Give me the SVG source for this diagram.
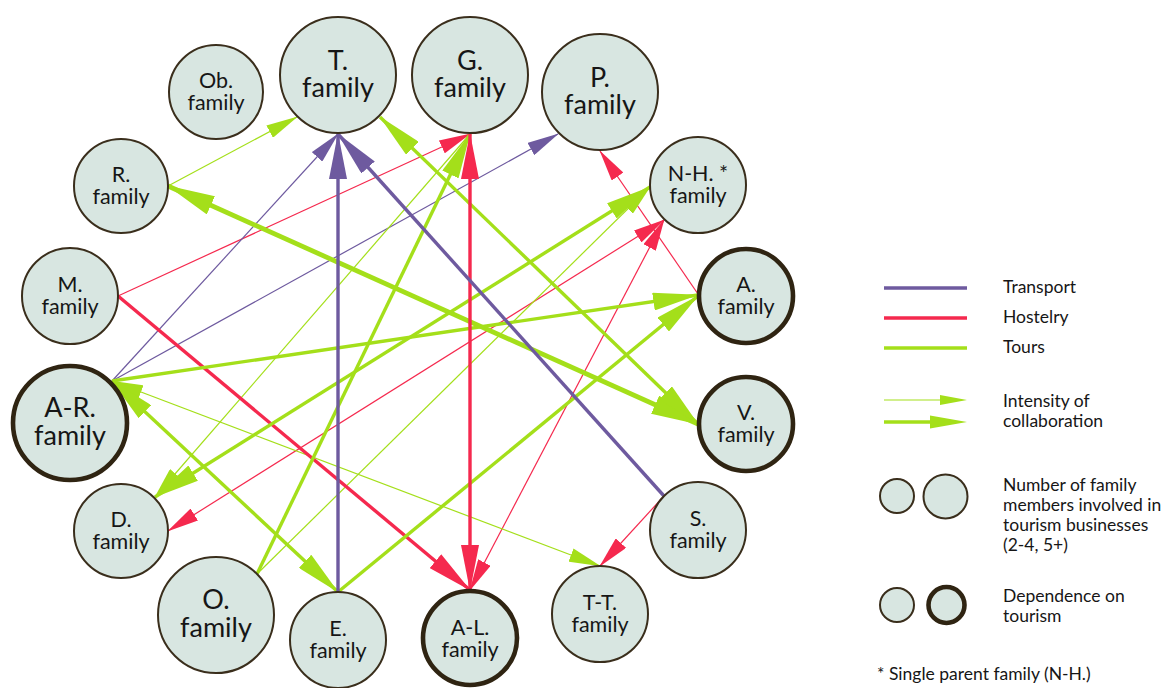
<svg xmlns="http://www.w3.org/2000/svg" width="1167" height="688" viewBox="0 0 1167 688">
<style>
.bg{fill:#ffffff}
.node{fill:#d8e6e1;stroke:#3a2e1c;stroke-width:2}
.dep{stroke:#2f2412;stroke-width:4.6}
.lbl{font-family:Lato,"Liberation Sans",sans-serif;fill:#161616;text-anchor:middle}
.s{font-size:21.5px}
.b{font-size:27px}
.leg{font-family:Lato,"Liberation Sans",sans-serif;fill:#161616;font-size:17.5px}
.pu{stroke:#6e5a9f;fill:none}
.re{stroke:#f5294e;fill:none}
.gr{stroke:#a4df1a;fill:none}
.th{stroke-width:1.2}
.tk{stroke-width:3.4}
.xk{stroke-width:4.8}
</style>
<defs>
<marker id="pu1" markerUnits="userSpaceOnUse" viewBox="0 0 32 14" markerWidth="32" markerHeight="14" refX="31" refY="7" orient="auto-start-reverse"><path d="M0,0L32,7L0,14z" fill="#6e5a9f"/></marker>
<marker id="pu2" markerUnits="userSpaceOnUse" viewBox="0 0 46 18" markerWidth="46" markerHeight="18" refX="45" refY="9" orient="auto-start-reverse"><path d="M0,0L46,9L0,18z" fill="#6e5a9f"/></marker>
<marker id="re1" markerUnits="userSpaceOnUse" viewBox="0 0 32 14" markerWidth="32" markerHeight="14" refX="31" refY="7" orient="auto-start-reverse"><path d="M0,0L32,7L0,14z" fill="#f5294e"/></marker>
<marker id="re2" markerUnits="userSpaceOnUse" viewBox="0 0 46 18" markerWidth="46" markerHeight="18" refX="45" refY="9" orient="auto-start-reverse"><path d="M0,0L46,9L0,18z" fill="#f5294e"/></marker>
<marker id="gr1" markerUnits="userSpaceOnUse" viewBox="0 0 32 14" markerWidth="32" markerHeight="14" refX="31" refY="7" orient="auto-start-reverse"><path d="M0,0L32,7L0,14z" fill="#a4df1a"/></marker>
<marker id="gr2" markerUnits="userSpaceOnUse" viewBox="0 0 46 18" markerWidth="46" markerHeight="18" refX="45" refY="9" orient="auto-start-reverse"><path d="M0,0L46,9L0,18z" fill="#a4df1a"/></marker>
<marker id="gr3" markerUnits="userSpaceOnUse" viewBox="0 0 48 20" markerWidth="48" markerHeight="20" refX="47" refY="10" orient="auto-start-reverse"><path d="M0,0L48,10L0,20z" fill="#a4df1a"/></marker>
</defs>
<rect class="bg" x="0" y="0" width="1167" height="688"/>
<g id="connectors">
<line class="re th" x1="118" y1="296" x2="470" y2="134" marker-end="url(#re1)"/>
<line class="re th" x1="698" y1="294" x2="600" y2="151" marker-end="url(#re1)"/>
<line class="re th" x1="168" y1="531" x2="664" y2="220" marker-start="url(#re1)" marker-end="url(#re1)"/>
<line class="re th" x1="470" y1="590" x2="664" y2="220" marker-start="url(#re1)" marker-end="url(#re1)"/>
<line class="re th" x1="664" y1="496" x2="600" y2="566" marker-end="url(#re1)"/>
<line class="pu th" x1="112" y1="381" x2="338" y2="134" marker-end="url(#pu1)"/>
<line class="pu th" x1="112" y1="381" x2="558" y2="134" marker-end="url(#pu1)"/>
<line class="gr th" x1="168" y1="186" x2="297" y2="117" marker-end="url(#gr1)"/>
<line class="gr th" x1="470" y1="134" x2="155" y2="497" marker-end="url(#gr1)"/>
<line class="gr th" x1="257" y1="574" x2="650" y2="187" marker-end="url(#gr1)"/>
<line class="gr th" x1="112" y1="381" x2="600" y2="566" marker-start="url(#gr1)" marker-end="url(#gr1)"/>
<line class="re tk" x1="118" y1="296" x2="470" y2="590" marker-end="url(#re2)"/>
<line class="gr xk" x1="168" y1="186" x2="698" y2="424" marker-start="url(#gr3)" marker-end="url(#gr3)"/>
<line class="gr tk" x1="380" y1="117" x2="698" y2="424" marker-start="url(#gr2)" marker-end="url(#gr2)"/>
<line class="gr tk" x1="257" y1="574" x2="470" y2="134" marker-end="url(#gr2)"/>
<line class="gr tk" x1="155" y1="497" x2="650" y2="187" marker-start="url(#gr2)" marker-end="url(#gr2)"/>
<line class="gr tk" x1="112" y1="381" x2="698" y2="295" marker-end="url(#gr2)"/>
<line class="gr tk" x1="338" y1="592" x2="698" y2="296" marker-end="url(#gr2)"/>
<line class="gr tk" x1="112" y1="381" x2="338" y2="592" marker-start="url(#gr2)" marker-end="url(#gr2)"/>
<line class="re tk" x1="470" y1="590" x2="470" y2="134" marker-start="url(#re2)" marker-end="url(#re2)"/>
<line class="pu tk" x1="338" y1="592" x2="338" y2="134" marker-end="url(#pu2)"/>
<line class="pu tk" x1="664" y1="496" x2="338" y2="134" marker-end="url(#pu2)"/>
</g>
<g id="node-ob"><circle class="node" cx="216" cy="92" r="47"/><text class="lbl s"><tspan x="216" y="88">Ob.</tspan><tspan x="216" y="110">family</tspan></text></g>
<g id="node-t"><circle class="node" cx="338" cy="75" r="58"/><text class="lbl b"><tspan x="338" y="70">T.</tspan><tspan x="338" y="97">family</tspan></text></g>
<g id="node-g"><circle class="node" cx="470" cy="75" r="58"/><text class="lbl b"><tspan x="470" y="70">G.</tspan><tspan x="470" y="97">family</tspan></text></g>
<g id="node-p"><circle class="node" cx="600" cy="92" r="58"/><text class="lbl b"><tspan x="600" y="87">P.</tspan><tspan x="600" y="114">family</tspan></text></g>
<g id="node-nh"><circle class="node" cx="698" cy="185" r="48"/><text class="lbl s"><tspan x="698" y="181">N-H. *</tspan><tspan x="698" y="203">family</tspan></text></g>
<g id="node-r"><circle class="node" cx="121" cy="186" r="47"/><text class="lbl s"><tspan x="121" y="182">R.</tspan><tspan x="121" y="204">family</tspan></text></g>
<g id="node-m"><circle class="node" cx="70" cy="296" r="48"/><text class="lbl s"><tspan x="70" y="292">M.</tspan><tspan x="70" y="314">family</tspan></text></g>
<g id="node-ar"><circle class="node dep" cx="70" cy="423" r="57"/><text class="lbl b"><tspan x="70" y="417">A-R.</tspan><tspan x="70" y="445">family</tspan></text></g>
<g id="node-d"><circle class="node" cx="121" cy="531" r="47"/><text class="lbl s"><tspan x="121" y="527">D.</tspan><tspan x="121" y="549">family</tspan></text></g>
<g id="node-o"><circle class="node" cx="216" cy="615" r="58"/><text class="lbl b"><tspan x="216" y="609">O.</tspan><tspan x="216" y="637">family</tspan></text></g>
<g id="node-e"><circle class="node" cx="338" cy="640" r="48"/><text class="lbl s"><tspan x="338" y="636">E.</tspan><tspan x="338" y="658">family</tspan></text></g>
<g id="node-al"><circle class="node dep" cx="470" cy="638" r="47"/><text class="lbl s"><tspan x="470" y="635">A-L.</tspan><tspan x="470" y="657">family</tspan></text></g>
<g id="node-tt"><circle class="node" cx="600" cy="614" r="48"/><text class="lbl s"><tspan x="600" y="610">T-T.</tspan><tspan x="600" y="632">family</tspan></text></g>
<g id="node-s"><circle class="node" cx="698" cy="530" r="48"/><text class="lbl s"><tspan x="698" y="526">S.</tspan><tspan x="698" y="548">family</tspan></text></g>
<g id="node-a"><circle class="node dep" cx="746" cy="296" r="47"/><text class="lbl s"><tspan x="746" y="292">A.</tspan><tspan x="746" y="314">family</tspan></text></g>
<g id="node-v"><circle class="node dep" cx="746" cy="424" r="47"/><text class="lbl s"><tspan x="746" y="420">V.</tspan><tspan x="746" y="442">family</tspan></text></g>
<g id="legend">
<line class="pu" stroke-width="3.4" x1="884" y1="288" x2="967" y2="288"/>
<text class="leg" x="1003" y="293">Transport</text>
<line class="re" stroke-width="3.4" x1="884" y1="318" x2="967" y2="318"/>
<text class="leg" x="1003" y="323">Hostelry</text>
<line class="gr" stroke-width="3.4" x1="884" y1="348" x2="967" y2="348"/>
<text class="leg" x="1003" y="353">Tours</text>
<line class="gr" stroke-width="1.2" x1="884" y1="400" x2="945" y2="400"/>
<path d="M940,395L967,400L940,405z" fill="#a4df1a"/>
<line class="gr" stroke-width="3.4" x1="884" y1="422" x2="935" y2="422"/>
<path d="M930,415.5L967,422L930,428.5z" fill="#a4df1a"/>
<text class="leg"><tspan x="1003" y="407">Intensity of</tspan><tspan x="1003" y="427">collaboration</tspan></text>
<circle class="node" cx="897" cy="496" r="17"/>
<circle class="node" cx="945.5" cy="496.5" r="22"/>
<text class="leg"><tspan x="1003" y="491">Number of family</tspan><tspan x="1003" y="511">members involved in</tspan><tspan x="1003" y="531">tourism businesses</tspan><tspan x="1003" y="551">(2-4, 5+)</tspan></text>
<circle class="node" cx="897" cy="605" r="17"/>
<circle class="node dep" cx="946.5" cy="605" r="18"/>
<text class="leg"><tspan x="1003" y="602">Dependence on</tspan><tspan x="1003" y="622">tourism</tspan></text>
<text class="leg" x="877" y="680">* Single parent family (N-H.)</text>
</g>
</svg>
